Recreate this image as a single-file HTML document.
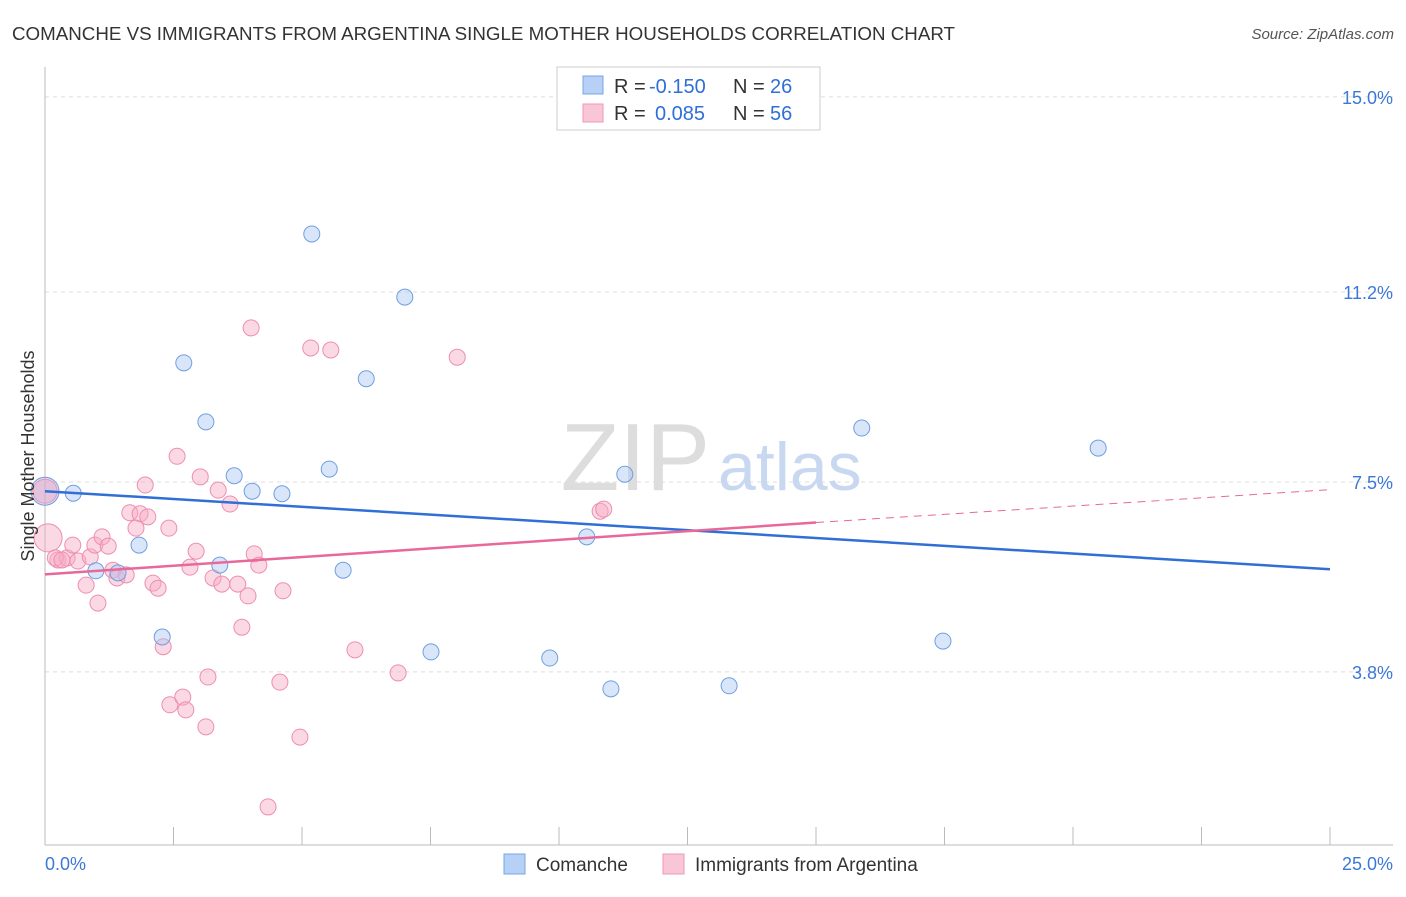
<!DOCTYPE html>
<html><head><meta charset="utf-8"><style>
body{margin:0;background:#fff;font-family:"Liberation Sans",sans-serif;}
svg text{font-family:"Liberation Sans",sans-serif;}
</style></head><body>
<svg width="1406" height="892" viewBox="0 0 1406 892">
<text x="12" y="40" font-size="18" fill="#333" textLength="943" lengthAdjust="spacingAndGlyphs">COMANCHE VS IMMIGRANTS FROM ARGENTINA SINGLE MOTHER HOUSEHOLDS CORRELATION CHART</text>
<text x="1394" y="39" font-size="15" fill="#555" font-style="italic" text-anchor="end">Source: ZipAtlas.com</text>
<g id="grid"></g>
<g id="axes"></g>
<text x="710" y="490" font-size="96" font-family="Liberation Serif" fill="#ddd" text-anchor="end">ZIP</text>
<text x="718" y="490" font-size="68" fill="#c8d8f0">atlas</text>
<g id="pts"></g>
<g id="lines"></g>
<g>
<rect x="557" y="67" width="263" height="63" fill="#fff" stroke="#ccc"/>
<rect x="583" y="76" width="20" height="18" fill="#b7d0f5" stroke="#7aa6e6"/>
<rect x="583" y="104" width="20" height="18" fill="#f9c6d6" stroke="#ef97b4"/>
<text x="614" y="93" font-size="20" fill="#333">R =</text>
<text x="649" y="93" font-size="20" fill="#2f6fd6">-0.150</text>
<text x="733" y="93" font-size="20" fill="#333">N =</text>
<text x="770" y="93" font-size="20" fill="#2f6fd6">26</text>
<text x="614" y="120" font-size="20" fill="#333">R =</text>
<text x="655" y="120" font-size="20" fill="#2f6fd6">0.085</text>
<text x="733" y="120" font-size="20" fill="#333">N =</text>
<text x="770" y="120" font-size="20" fill="#2f6fd6">56</text>
</g>
<g>
<rect x="504" y="854" width="21" height="20" fill="#b7d0f5" stroke="#7aa6e6"/>
<text x="536" y="871" font-size="19" fill="#333">Comanche</text>
<rect x="663" y="854" width="21" height="20" fill="#f9c6d6" stroke="#ef97b4"/>
<text x="695" y="871" font-size="19" fill="#333">Immigrants from Argentina</text>
</g>
<text transform="translate(34,456) rotate(-90)" font-size="18" fill="#333" text-anchor="middle">Single Mother Households</text>
</svg>
<script>
const yTicks=[3.8,7.5,11.2,15.0];
const yTickLabels=["3.8%","7.5%","11.2%","15.0%"];
const xTickLabels=["0.0%","25.0%"];
const blueX=[0,0.55,1.83,0.99,1.42,2.28,2.70,3.13,3.68,4.03,4.61,3.40,5.19,5.53,5.80,6.25,7.00,7.51,9.82,10.54,11.01,11.28,13.31,15.89,17.47,20.49];
const blueY=[7.32,7.28,6.27,5.77,5.73,4.48,9.82,8.67,7.62,7.32,7.27,5.88,12.33,7.75,5.78,9.51,11.10,4.19,4.07,6.43,3.47,7.65,3.53,8.55,4.40,8.16];
const pinkX=[0.06,0.25,0.43,0.54,0.64,0.80,0.88,0.97,1.03,1.11,1.23,1.32,1.40,1.58,1.65,1.85,1.95,2.00,1.77,2.10,2.20,2.30,2.41,2.43,2.57,2.68,2.74,2.82,2.94,3.02,3.17,3.13,3.27,3.37,3.44,3.60,3.75,3.83,3.95,4.01,4.07,4.16,4.34,4.57,4.63,4.96,5.17,5.56,6.03,6.87,8.02,10.80,10.87,0.20,0,0.33];
const pinkY=[6.41,5.98,6.02,6.27,5.96,5.49,6.04,6.27,5.14,6.43,6.25,5.78,5.63,5.69,6.90,6.88,7.44,6.82,6.60,5.53,5.43,4.29,6.60,3.16,8.00,3.31,3.06,5.84,6.15,7.60,3.70,2.73,5.63,7.34,5.51,7.07,5.51,4.67,5.28,10.50,6.10,5.88,1.17,3.60,5.38,2.53,10.11,10.07,4.23,3.78,9.93,6.93,6.97,6.02,7.32,5.98];
const blueTrend=[[0,7.32],[25,5.80]];
const pinkTrend=[[0,5.70],[15,6.71],[25,7.35]];
const NS="http://www.w3.org/2000/svg";
const X=v=>45+v*51.4, Y=v=>867-v*51.34;
function mk(t,a,p){const e=document.createElementNS(NS,t);for(const k in a)e.setAttribute(k,a[k]);p.appendChild(e);return e;}
const grid=document.getElementById('grid'),axes=document.getElementById('axes');
yTicks.forEach((t,i)=>{
 const l=mk('line',{x1:45,x2:1393,y1:Y(t),y2:Y(t),stroke:'#ddd','stroke-dasharray':'4,4'},grid);
 
 
 const tx=mk('text',{x:1393,y:Y(t)+7,'font-size':18,fill:'#3b78d8','text-anchor':'end'},axes);
 tx.textContent=yTickLabels[i];
 
 
});
mk('line',{x1:45,x2:45,y1:67,y2:845,stroke:'#bbb'},axes);
mk('line',{x1:45,x2:1393,y1:845,y2:845,stroke:'#bbb'},axes);
for(let i=0;i<=10;i++){const t=mk('line',{x1:X(i*2.5),x2:X(i*2.5),y1:827,y2:845,stroke:'#bbb'},axes);
 
 }
[[0,'start'],[25,'end']].forEach((d,i)=>{const tx=mk('text',{x:i?1393:45,y:870,'font-size':18,fill:'#3b78d8','text-anchor':d[1]},axes);tx.textContent=xTickLabels[i];
 
 });
const pts=document.getElementById('pts');
pinkX.forEach((x,i)=>{const c=mk('circle',{cx:X(x),cy:Y(pinkY[i]),r:i==0?14:(i==54?12:8),fill:'rgba(246,170,196,0.45)',stroke:'#ee8eb0','stroke-width':1},pts);
 
 });
blueX.forEach((x,i)=>{const c=mk('circle',{cx:X(x),cy:Y(blueY[i]),r:i==0?14:8,fill:i==0?'rgba(200,170,210,0.45)':'rgba(170,200,245,0.45)',stroke:'#6f9fe0','stroke-width':1},pts);
 
 });
const lines=document.getElementById('lines');
let b=mk('line',{x1:X(blueTrend[0][0]),y1:Y(blueTrend[0][1]),x2:X(blueTrend[1][0]),y2:Y(blueTrend[1][1]),stroke:'#2f6fd6','stroke-width':2.5},lines);


let p=mk('line',{x1:X(pinkTrend[0][0]),y1:Y(pinkTrend[0][1]),x2:X(pinkTrend[1][0]),y2:Y(pinkTrend[1][1]),stroke:'#e8689a','stroke-width':2.5},lines);


let pd=mk('line',{x1:X(pinkTrend[1][0]),y1:Y(pinkTrend[1][1]),x2:X(pinkTrend[2][0]),y2:Y(pinkTrend[2][1]),stroke:'#e8689a','stroke-width':1,'stroke-dasharray':'8,6'},lines);


</script>
</body></html>
